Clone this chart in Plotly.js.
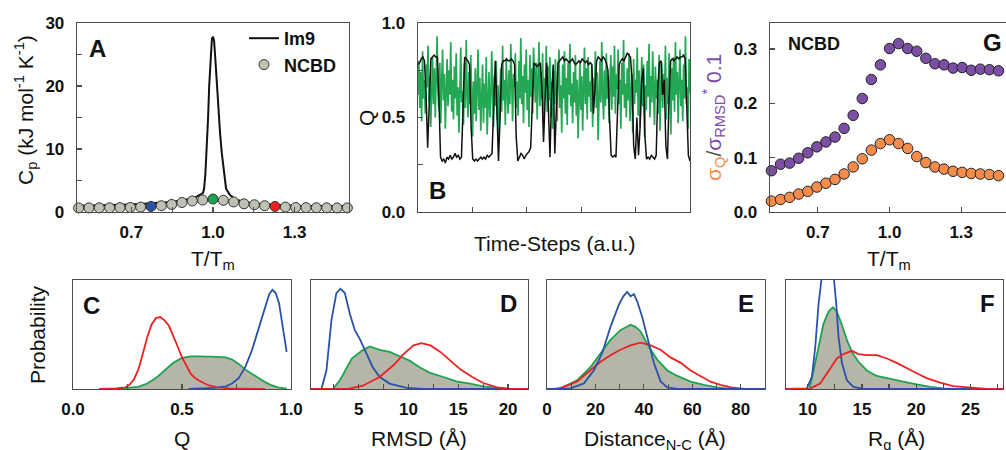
<!DOCTYPE html>
<html><head><meta charset="utf-8">
<script src="https://cdn.plot.ly/plotly-3.0.1.min.js"></script>
<style>html,body{margin:0;padding:0;background:#fff;overflow:hidden}#chart{width:1006px;height:450px}</style>
</head><body><div id="chart"></div>
<script>
// ---------- DATA ----------
// Panel A: heat capacity vs T/Tm
const tempRatio = [0.506,0.544,0.582,0.620,0.658,0.696,0.734,0.772,0.810,0.848,0.886,0.924,0.962,1.000,1.038,1.076,1.114,1.152,1.190,1.228,1.266,1.304,1.342,1.380,1.418,1.456,1.494];
const ncbdCp = [0.65,0.65,0.66,0.67,0.69,0.72,0.78,0.88,1.0,1.2,1.5,1.75,1.9,2.05,1.85,1.6,1.3,1.15,1.0,0.88,0.78,0.72,0.69,0.67,0.66,0.65,0.65];
const im9Temp = [0.50,0.70,0.85,0.93,0.963,0.967,0.972,0.977,0.982,0.986,0.991,0.996,1.000,1.004,1.009,1.014,1.020,1.026,1.032,1.038,1.048,1.0625,1.087,1.15,1.30,1.50];
const im9Cp = [1.0,1.2,1.6,2.2,3.0,3.6,6,10,15,20,25,27.5,27.8,27.2,24,20.4,16,12.5,9.5,7.2,3.7,2.7,1.9,1.3,1.0,0.9];
// Panel G: fluctuations vs T/Tm
const sigmaQ = [0.020,0.023,0.027,0.033,0.038,0.046,0.053,0.060,0.070,0.083,0.098,0.114,0.126,0.133,0.126,0.117,0.102,0.091,0.083,0.079,0.075,0.073,0.071,0.070,0.069,0.067,0.067];
const sigmaRmsdScaled = [0.076,0.088,0.090,0.099,0.109,0.120,0.129,0.138,0.154,0.178,0.209,0.244,0.271,0.301,0.310,0.301,0.296,0.283,0.273,0.271,0.265,0.266,0.261,0.263,0.262,0.260,0.258];
// Panel B: Q time series (NCBD fast, Im9 two-state)
const qNcbd = [
0.62,0.80,0.55,0.74,0.48,0.85,0.60,0.70,0.52,0.78,
0.66,0.88,0.58,0.72,0.45,0.69,0.82,0.57,0.76,0.50,
0.71,0.93,0.63,0.54,0.79,0.47,0.68,0.86,0.59,0.73,
0.44,0.67,0.81,0.56,0.75,0.62,0.90,0.53,0.70,0.49,
0.77,0.60,0.84,0.51,0.66,0.42,0.72,0.87,0.58,0.64,
0.46,0.79,0.55,0.91,0.63,0.50,0.74,0.57,0.83,0.61,
0.40,0.69,0.52,0.76,0.48,0.65,0.86,0.54,0.71,0.43,
0.62,0.78,0.47,0.68,0.55,0.82,0.41,0.66,0.74,0.50,
0.58,0.85,0.63,0.45,0.72,0.56,0.80,0.49,0.67,0.39,
0.61,0.76,0.53,0.88,0.59,0.70,0.46,0.81,0.64,0.52,
0.75,0.57,0.89,0.62,0.48,0.73,0.66,0.84,0.55,0.69,
0.51,0.80,0.60,0.92,0.57,0.72,0.47,0.78,0.63,0.86,
0.54,0.70,0.45,0.83,0.61,0.76,0.52,0.87,0.65,0.58,
0.79,0.49,0.68,0.90,0.56,0.74,0.60,0.84,0.46,0.71,
0.63,0.88,0.53,0.77,0.59,0.82,0.50,0.69,0.44,0.75,
0.57,0.81,0.64,0.48,0.73,0.86,0.55,0.67,0.42,0.78,
0.60,0.85,0.52,0.71,0.46,0.79,0.62,0.89,0.56,0.68,
0.47,0.74,0.58,0.83,0.51,0.70,0.39,0.65,0.80,0.54,
0.72,0.43,0.66,0.87,0.57,0.76,0.49,0.82,0.61,0.69,
0.53,0.78,0.45,0.71,0.62,0.85,0.55,0.74,0.38,0.67,
0.80,0.58,0.90,0.63,0.49,0.75,0.56,0.84,0.60,0.72,
0.47,0.69,0.83,0.54,0.77,0.61,0.88,0.52,0.73,0.65,
0.86,0.57,0.70,0.44,0.79,0.62,0.91,0.55,0.68,0.50,
0.76,0.59,0.84,0.48,0.66,0.73,0.42,0.81,0.57,0.70,
0.63,0.87,0.51,0.75,0.45,0.69,0.82,0.56,0.78,0.40,
0.67,0.54,0.80,0.61,0.89,0.50,0.72,0.58,0.85,0.64,
0.46,0.77,0.60,0.70,0.52,0.83,0.43,0.68,0.79,0.55,
0.73,0.62,0.88,0.49,0.71,0.57,0.84,0.65,0.41,0.76,
0.59,0.82,0.53,0.90,0.62,0.74,0.47,0.69,0.86,0.56,
0.70,0.48,0.78,0.60,0.93,0.57,0.66,0.44,0.81,0.63];
const qIm9 = [
0.78,0.79,0.81,0.82,0.80,0.62,0.34,0.55,0.81,0.82,
0.83,0.82,0.82,0.60,0.29,0.27,0.28,0.26,0.29,0.28,
0.30,0.28,0.29,0.31,0.29,0.30,0.28,0.29,0.55,0.82,
0.81,0.80,0.78,0.45,0.28,0.27,0.28,0.27,0.28,0.29,
0.28,0.29,0.28,0.30,0.29,0.30,0.31,0.55,0.80,0.55,
0.27,0.50,0.78,0.80,0.80,0.81,0.80,0.80,0.81,0.80,
0.78,0.40,0.27,0.29,0.31,0.30,0.28,0.30,0.31,0.32,
0.34,0.60,0.79,0.78,0.77,0.78,0.79,0.65,0.37,0.60,
0.79,0.55,0.29,0.62,0.78,0.31,0.62,0.79,0.80,0.81,
0.82,0.80,0.81,0.80,0.79,0.80,0.81,0.79,0.78,0.79,
0.80,0.79,0.81,0.80,0.79,0.80,0.78,0.79,0.78,0.52,
0.70,0.80,0.82,0.81,0.80,0.82,0.81,0.79,0.75,0.50,
0.30,0.29,0.30,0.29,0.55,0.78,0.80,0.81,0.80,0.82,
0.84,0.83,0.82,0.70,0.35,0.28,0.50,0.30,0.45,0.70,
0.76,0.40,0.28,0.29,0.28,0.30,0.29,0.28,0.30,0.65,
0.79,0.80,0.62,0.70,0.35,0.28,0.60,0.80,0.81,0.80,
0.81,0.82,0.81,0.82,0.82,0.83,0.81,0.55,0.30,0.27];
// Panel C: Q distributions
const cBlueQ = [0.53,0.60,0.65,0.70,0.73,0.76,0.79,0.82,0.85,0.88,0.90,0.915,0.93,0.945,0.96,0.97,0.98];
const cBlueP = [0,0.003,0.01,0.025,0.05,0.10,0.20,0.35,0.55,0.76,0.87,0.91,0.88,0.79,0.62,0.47,0.34];
const cGreenQ = [0.19,0.25,0.30,0.34,0.38,0.42,0.46,0.50,0.54,0.58,0.62,0.66,0.70,0.73,0.76,0.79,0.82,0.85,0.88,0.91,0.94,0.98];
const cGreenP = [0,0.01,0.02,0.05,0.10,0.17,0.24,0.285,0.30,0.30,0.30,0.295,0.29,0.27,0.23,0.18,0.14,0.10,0.065,0.035,0.015,0.003];
const cRedQ = [0.12,0.20,0.24,0.26,0.28,0.30,0.32,0.34,0.36,0.38,0.40,0.42,0.44,0.46,0.48,0.50,0.52,0.54,0.56,0.58,0.62,0.66,0.72,0.88];
const cRedP = [0,0.005,0.015,0.04,0.09,0.18,0.32,0.47,0.59,0.65,0.66,0.63,0.58,0.49,0.39,0.29,0.21,0.14,0.10,0.075,0.035,0.015,0.005,0];
// Panel D: RMSD distributions
const dBlueR = [0.2,1.25,1.75,2.25,2.75,3.15,3.6,4.1,4.6,5.1,5.8,6.4,7.1,8.1,9.8,11.5,22];
const dBlueP = [0,0,0.17,0.63,0.88,0.92,0.88,0.69,0.54,0.46,0.32,0.20,0.11,0.05,0.01,0,0];
const dGreenR = [0.2,2.4,3.1,3.7,4.3,5.3,6.1,7.1,8.1,9.1,10.1,11.1,12.1,13.5,14.8,16.2,17.5,18.9,20.2,22];
const dGreenP = [0,0,0.08,0.18,0.28,0.35,0.39,0.36,0.34,0.30,0.26,0.20,0.15,0.11,0.07,0.05,0.025,0.01,0,0];
const dRedR = [0.2,3.9,5.4,7.1,8.5,9.5,10.5,11.3,12.2,13.2,14.2,15.2,16.4,17.5,18.9,20.2,22];
const dRedP = [0,0,0.03,0.11,0.22,0.32,0.40,0.42,0.40,0.34,0.26,0.18,0.11,0.055,0.015,0,0];
// Panel E: N-C distance distributions
const eBlueD = [0,9.6,15.2,19.3,22.8,26.2,29.6,31.5,33.1,34.5,35.9,37.3,39.3,41.4,44.1,46.9,49.7,53.8,90];
const eBlueP = [0,0.005,0.05,0.17,0.33,0.57,0.77,0.85,0.89,0.85,0.87,0.80,0.66,0.48,0.24,0.07,0.015,0,0];
const eGreenD = [0,3.6,6.9,12.4,17.9,22.1,26.2,30.3,32.5,34.5,36.5,38.6,42,45.5,49.7,53.8,59.3,64.8,70.4,75.9,90];
const eGreenP = [0,0,0.02,0.08,0.20,0.33,0.45,0.54,0.57,0.59,0.57,0.53,0.39,0.27,0.17,0.12,0.067,0.037,0.015,0,0];
const eRedD = [0,4.7,12.4,17.9,22.1,26.2,30.3,34.5,38.6,42.8,46.9,51,55.2,59.3,63.4,67.5,71.6,75.9,81.4,90];
const eRedP = [0,0,0.07,0.17,0.25,0.31,0.36,0.40,0.425,0.40,0.36,0.29,0.24,0.17,0.12,0.067,0.037,0.015,0,0];
// Panel F: Rg distributions
const fBlueRg = [8,9.92,10.39,10.70,11.0,11.22,11.5,11.8,12.1,12.44,12.63,12.84,13.15,13.61,14.22,15.14,28];
const fBlueP = [0,0.006,0.11,0.39,0.78,1.0,1.3,1.45,1.35,1.0,0.78,0.48,0.24,0.08,0.02,0,0];
const fGreenRg = [8,10.15,10.54,11.0,11.46,11.92,12.32,12.69,13.15,13.61,14.07,14.68,15.45,16.37,17.6,18.8,20.05,21.3,22.5,23.5,28];
const fGreenP = [0,0,0.17,0.39,0.60,0.71,0.75,0.71,0.59,0.45,0.34,0.25,0.17,0.12,0.09,0.067,0.043,0.02,0.005,0,0];
const fRedRg = [8,10.2,11.15,11.92,12.69,13.3,14.07,14.68,15.45,16.37,17.3,18.2,19.1,20.05,20.97,22.2,23.4,25,26.5,28];
const fRedP = [0,0.003,0.05,0.17,0.28,0.32,0.35,0.32,0.31,0.31,0.28,0.24,0.19,0.145,0.10,0.058,0.027,0.01,0,0];

// ---------- STYLE ----------
const FONT = 'Liberation Sans, Arial, Helvetica, sans-serif';
const W = 1006, H = 450;
const px = v => v / W;
const py = v => 1 - v / H;
const BLUE = '#2a52a8', GREEN = '#1ea34e', RED = '#ec2222', FILL = '#b5b5a8';
const GRAY_DOT = '#c0c1b5', ORANGE = '#f68c4c', PURPLE = '#7c4ea4';
const highlight = {7: BLUE, 13: GREEN, 19: RED};
const dotColors = tempRatio.map((t, i) => highlight[i] || GRAY_DOT);

function axis(dom, range, extra) {
  return Object.assign({
    domain: dom, range: range, showline: true, linecolor: '#4d4d4d', linewidth: 1.3, mirror: true,
    ticks: 'inside', ticklen: 5, tickwidth: 1.2, tickcolor: '#4d4d4d',
    showgrid: false, zeroline: false, fixedrange: true, ticklabelstandoff: 8,
    tickfont: {family: FONT, size: 17, color: '#111', weight: 'bold'}
  }, extra);
}
const minorTicks = vals => ({tickvals: vals, ticks: 'inside', ticklen: 5, tickwidth: 1.2, tickcolor: '#4d4d4d'});

const lineTrace = (x, y, color, xa, ya, extra) => Object.assign({
  x: x, y: y, xaxis: xa, yaxis: ya, type: 'scatter', mode: 'lines',
  line: {color: color, width: 1.8}, showlegend: false, hoverinfo: 'skip'
}, extra);

const tNcbd = qNcbd.map((v, i) => i / (qNcbd.length - 1));
const tIm9 = qIm9.map((v, i) => i / (qIm9.length - 1));

const traces = [
  // A
  lineTrace(im9Temp, im9Cp, '#111', 'x', 'y', {name: 'Im9', showlegend: true, line: {color: '#111', width: 2}}),
  {x: tempRatio, y: ncbdCp, xaxis: 'x', yaxis: 'y', type: 'scatter', mode: 'markers', name: 'NCBD', showlegend: true,
   cliponaxis: false, hoverinfo: 'skip',
   marker: {size: 10, color: dotColors, line: {color: '#333', width: 1}}},
  // B
  lineTrace(tNcbd, qNcbd, GREEN, 'x2', 'y2', {line: {color: '#19a34c', width: 1.7}, opacity: 0.95}),
  lineTrace(tIm9, qIm9, '#111', 'x2', 'y2', {line: {color: '#111', width: 1.5}}),
  // G
  {x: tempRatio, y: sigmaRmsdScaled, xaxis: 'x3', yaxis: 'y3', type: 'scatter', mode: 'markers', showlegend: false,
   cliponaxis: false, hoverinfo: 'skip', marker: {size: 10.5, color: PURPLE, line: {color: '#222', width: 1}}},
  {x: tempRatio, y: sigmaQ, xaxis: 'x3', yaxis: 'y3', type: 'scatter', mode: 'markers', showlegend: false,
   cliponaxis: false, hoverinfo: 'skip', marker: {size: 10.5, color: ORANGE, line: {color: '#222', width: 1}}},
  // C
  lineTrace(cGreenQ, cGreenP, GREEN, 'x4', 'y4', {fill: 'tozeroy', fillcolor: FILL}),
  lineTrace(cBlueQ, cBlueP, BLUE, 'x4', 'y4'),
  lineTrace(cRedQ, cRedP, RED, 'x4', 'y4'),
  // D
  lineTrace(dGreenR, dGreenP, GREEN, 'x5', 'y5', {fill: 'tozeroy', fillcolor: FILL}),
  lineTrace(dBlueR, dBlueP, BLUE, 'x5', 'y5'),
  lineTrace(dRedR, dRedP, RED, 'x5', 'y5'),
  // E
  lineTrace(eGreenD, eGreenP, GREEN, 'x6', 'y6', {fill: 'tozeroy', fillcolor: FILL}),
  lineTrace(eRedD, eRedP, RED, 'x6', 'y6'),
  lineTrace(eBlueD, eBlueP, BLUE, 'x6', 'y6'),
  // F
  lineTrace(fGreenRg, fGreenP, GREEN, 'x7', 'y7', {fill: 'tozeroy', fillcolor: FILL}),
  lineTrace(fBlueRg, fBlueP, BLUE, 'x7', 'y7'),
  lineTrace(fRedRg, fRedP, RED, 'x7', 'y7')
];

const topY = [py(212), py(23)];
const botY = [py(389), py(280)];
const noY = {showticklabels: false, ticks: ''};
const xLab = {ticklabelstandoff: 4};

function ann(text, x, y, size, extra) {
  return Object.assign({text: text, x: px(x), y: py(y), xref: 'paper', yref: 'paper', showarrow: false,
    xanchor: 'center', yanchor: 'middle', font: {family: FONT, size: size, color: '#111'}}, extra);
}
const bold = (t, x, y, s) => ann(t, x, y, s, {font: {family: FONT, size: s, color: '#111', weight: 'bold'}});

const layout = {
  width: W, height: H, margin: {l: 0, r: 0, t: 0, b: 0}, paper_bgcolor: '#fff', plot_bgcolor: 'rgba(0,0,0,0)',
  showlegend: true,
  legend: {x: px(244), y: py(20), xanchor: 'left', yanchor: 'top', bgcolor: 'rgba(0,0,0,0)',
    font: {family: FONT, size: 18, color: '#111', weight: 'bold'}},
  xaxis: axis([px(77), px(349)], [0.5, 1.5], Object.assign({anchor: 'y', tickvals: [0.7, 1.0, 1.3], ticktext: ['0.7', '1.0', '1.3'], minor: minorTicks([0.85, 1.15])}, xLab)),
  yaxis: axis(topY, [0, 30], {anchor: 'x', tickvals: [0, 10, 20, 30], ticktext: ['0', '10', '20', '30'], minor: minorTicks([5, 15, 25])}),
  xaxis2: axis([px(418), px(690)], [0, 1], {anchor: 'y2', tickvals: [0.2, 0.4, 0.6, 0.8], showticklabels: false}),
  yaxis2: axis(topY, [0, 1], {anchor: 'x2', tickvals: [0, 0.5, 1], ticktext: ['0.0', '0.5', '1.0'], minor: minorTicks([0.25, 0.75])}),
  xaxis3: axis([px(770), 1], [0.5, 1.4874], Object.assign({anchor: 'y3', tickvals: [0.7, 1.0, 1.3], ticktext: ['0.7', '1.0', '1.3']}, xLab)),
  yaxis3: axis(topY, [0, 0.348], {anchor: 'x3', mirror: false, tickvals: [0, 0.1, 0.2, 0.3], ticktext: ['0.0', '0.1', '0.2', '0.3']}),
  xaxis4: axis([px(73), px(291)], [0, 1], Object.assign({anchor: 'y4', tickvals: [0, 0.5, 1], ticktext: ['0.0', '0.5', '1.0'], minor: minorTicks([0.25, 0.75])}, xLab)),
  yaxis4: axis(botY, [0, 1], Object.assign({anchor: 'x4'}, noY)),
  xaxis5: axis([px(311), px(528)], [0.2, 22], Object.assign({anchor: 'y5', tickvals: [5, 10, 15, 20], minor: minorTicks([2.5, 7.5, 12.5, 17.5])}, xLab)),
  yaxis5: axis(botY, [0, 1], Object.assign({anchor: 'x5'}, noY)),
  xaxis6: axis([px(547), px(765)], [0, 90], Object.assign({anchor: 'y6', tickvals: [0, 20, 40, 60, 80], minor: minorTicks([10, 30, 50, 70])}, xLab)),
  yaxis6: axis(botY, [0, 1], Object.assign({anchor: 'x6'}, noY)),
  xaxis7: axis([px(786), px(1003)], [8, 28], Object.assign({anchor: 'y7', tickvals: [10, 15, 20, 25], minor: minorTicks([12.5, 17.5, 22.5, 27.5])}, xLab)),
  yaxis7: axis(botY, [0, 1], Object.assign({anchor: 'x7'}, noY)),
  annotations: [
    ann('C<sub>p</sub> (kJ mol<sup>-1</sup> K<sup>-1</sup>)', 25, 110, 21, {textangle: -90}),
    ann('T/T<sub>m</sub>', 213, 260, 21),
    ann('Time-Steps (a.u.)', 554, 243, 21),
    ann('Q', 366, 118, 21, {textangle: -90}),
    ann('<span style="color:' + ORANGE + '">σ<sub>Q</sub></span><span style="color:#555">/</span><span style="color:' + PURPLE + '">σ<sub>RMSD</sub><sup>*</sup> 0.1</span>', 713, 118, 21, {textangle: -90}),
    ann('T/T<sub>m</sub>', 889, 260, 21),
    ann('Probability', 37, 335, 21, {textangle: -90}),
    ann('Q', 182, 438, 21),
    ann('RMSD (Å)', 419, 438, 21),
    ann('Distance<sub>N-C</sub> (Å)', 655, 440, 21),
    ann('R<sub>g</sub> (Å)', 896, 440, 21),
    bold('A', 97, 48, 24), bold('B', 437, 190, 24), bold('G', 992, 42, 24),
    bold('C', 91, 305, 24), bold('D', 508, 303, 24), bold('E', 746, 303, 24), bold('F', 987, 303, 24),
    bold('NCBD', 814, 44, 18)
  ]
};

Plotly.newPlot('chart', traces, layout, {displayModeBar: false, staticPlot: true});
</script>
</body></html>
